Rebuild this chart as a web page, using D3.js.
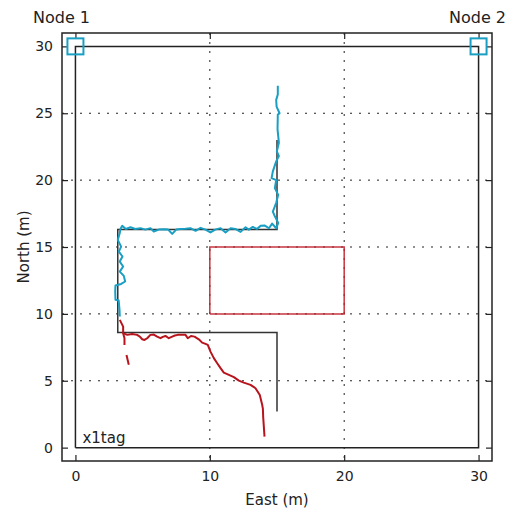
<!DOCTYPE html>
<html>
<head>
<meta charset="utf-8">
<script src="https://cdn.jsdelivr.net/npm/d3@7"></script>
<style>
  body { margin: 0; background: #fff; }
  svg { display: block; font-family: "DejaVu Sans", sans-serif; }
</style>
</head>
<body>
<div id="chart"></div>
<script>
// tick values
const xTicks = [0, 10, 20, 30];
const yTicks = [0, 5, 10, 15, 20, 25, 30];
const xGrid = [10, 20];
const yGrid = [5, 10, 15, 20, 25];

// anchor nodes
const nodeNames = ["Node 1", "Node 2"];
const nodeX = [0, 30];
const nodeY = [30, 30];

// room outline and planned route
const roomX = [0, 30, 30, 0, 0];
const roomY = [0, 0, 30, 30, 0];
const routeX = [15, 15, 3.15, 3.15, 15, 15];
const routeY = [23, 16.3, 16.3, 8.6, 8.6, 2.7];

// obstacle
const obstacleX = [10, 20, 20, 10, 10];
const obstacleY = [10, 10, 15, 15, 10];

// tracked positions (cyan part)
const trackAX = [15.06, 15.06, 14.94, 14.97, 15.19, 15.06, 15.04, 15.14, 14.99, 15.14, 14.94, 14.69, 14.6, 14.94, 14.84, 15.09, 14.94, 14.69, 14.84, 15.09, 14.94,
  14.64, 14.4, 14.1, 13.78, 13.5, 13.2, 12.9, 12.66, 12.29, 11.9, 11.55, 11.17, 10.8, 10.4, 10.05, 9.68, 9.31, 8.94, 8.56, 8.19, 7.82, 7.5, 7.2, 6.9, 6.58, 6.2, 5.83, 5.58, 5.2, 4.84, 4.45, 4.1, 3.75, 3.48, 3.35,
  3.3, 3.15, 3.4, 3.23, 3.5, 3.3, 3.55, 3.3, 3.6, 3.7, 3.4, 2.98, 2.96, 2.98, 3.22, 3.28, 3.3];
const trackAY = [27.05, 26.4, 26.0, 25.5, 25.0, 24.9, 23.8, 22.8, 22.15, 21.8, 21.4, 20.65, 20.15, 20.0, 19.4, 18.9, 18.3, 17.65, 17.3, 16.8, 16.4,
  16.75, 16.4, 16.6, 16.58, 16.35, 16.5, 16.3, 16.48, 16.13, 16.35, 16.4, 16.09, 16.41, 16.3, 16.09, 16.3, 16.43, 16.21, 16.41, 16.36, 16.35, 16.3, 15.98, 16.3, 16.33, 16.3, 16.16, 16.41, 16.3, 16.41, 16.35, 16.48, 16.35, 16.58, 16.35,
  16.04, 15.53, 15.03, 14.66, 14.29, 13.91, 13.54, 13.16, 12.84, 12.42, 12.24, 12.12, 11.67, 11.05, 11.0, 10.3, 9.8];

// tracked positions (red part)
const trackBX = [3.3, 3.45, 3.55, 3.55, 3.85, 4.22, 4.59, 4.79, 4.97, 5.14, 5.34, 5.58, 5.83, 6.08, 6.33, 6.5, 6.7, 6.95, 7.2, 7.4, 7.62, 7.95, 8.19, 8.36, 8.6, 8.86, 9.18, 9.43, 9.68, 9.85,
  10.05, 10.3, 10.55, 10.8, 11.04, 11.42, 11.79, 12.16, 12.53, 13.03, 13.4, 13.72, 13.9, 13.95, 13.97, 14.02, 14.07];
const trackBY = [9.55, 9.25, 9.05, 8.56, 8.43, 8.5, 8.43, 8.3, 8.1, 8.05, 8.18, 8.43, 8.45, 8.3, 8.18, 8.28, 8.35, 8.18, 8.3, 8.38, 8.43, 8.43, 8.43, 8.18, 8.35, 8.3, 8.1, 7.85, 7.76, 7.68,
  7.18, 6.69, 6.31, 5.94, 5.61, 5.44, 5.27, 5.01, 4.86, 4.69, 4.44, 3.94, 3.19, 2.9, 2.32, 1.57, 0.82];
const branchX = [3.55, 3.65, 3.65];
const branchY = [8.56, 8.18, 7.68];
const tailX = [3.8, 3.97];
const tailY = [6.93, 6.19];

const width = 510, height = 513;
const margin = {top: 33, right: 18, bottom: 52, left: 62};
const w = width - margin.left - margin.right;
const h = height - margin.top - margin.bottom;

const svg = d3.select('#chart').append('svg').attr('width', width).attr('height', height);
const g = svg.append('g').attr('transform', `translate(${margin.left},${margin.top})`);

const x = d3.scaleLinear().domain([-1, 31]).range([0, w]);
const y = d3.scaleLinear().domain([-1, 31]).range([h, 0]);

const pts = (xs, ys) => xs.map((v, i) => [v, ys[i]]);
const line = d3.line().x(d => x(d[0])).y(d => y(d[1]));

// dotted grid
g.append('g').selectAll('line').data(yGrid).join('line')
  .attr('x1', 0).attr('x2', w).attr('y1', d => y(d)).attr('y2', d => y(d))
  .attr('stroke', '#222').attr('stroke-width', 1).attr('stroke-dasharray', '2,7');
g.append('g').selectAll('line').data(xGrid).join('line')
  .attr('y1', 0).attr('y2', h).attr('x1', d => x(d)).attr('x2', d => x(d))
  .attr('stroke', '#222').attr('stroke-width', 1).attr('stroke-dasharray', '2,7');

// axes with inward ticks
const axisStyle = sel => {
  sel.select('.domain').remove();
  sel.selectAll('.tick line').attr('stroke', '#222').attr('stroke-width', 1.2);
  sel.selectAll('.tick text').style('font-size', '14px').style('font-family', '"DejaVu Sans", sans-serif').attr('fill', '#222');
};
g.append('g').attr('transform', `translate(0,${h})`)
  .call(d3.axisBottom(x).tickValues(xTicks).tickSize(-6).tickPadding(10)).call(axisStyle);
g.append('g').call(d3.axisLeft(y).tickValues(yTicks).tickSize(-6).tickPadding(9)).call(axisStyle);
g.append('g').call(d3.axisTop(x).tickValues(xTicks).tickSize(-6).tickFormat('')).call(axisStyle);
g.append('g').attr('transform', `translate(${w},0)`)
  .call(d3.axisRight(y).tickValues(yTicks).tickSize(-6).tickFormat('')).call(axisStyle);

// plot frame
g.append('rect').attr('width', w).attr('height', h).attr('fill', 'none').attr('stroke', '#222').attr('stroke-width', 1.5);

// room + planned route
g.append('path').attr('d', line(pts(roomX, roomY))).attr('fill', 'none').attr('stroke', '#222').attr('stroke-width', 1.5);
g.append('path').attr('d', line(pts(routeX, routeY))).attr('fill', 'none').attr('stroke', '#333').attr('stroke-width', 1.5);

// obstacle
g.append('path').attr('d', line(pts(obstacleX, obstacleY))).attr('fill', 'none').attr('stroke', '#c0202b').attr('stroke-width', 1.5).attr('stroke-opacity', 0.9);

// tracks
g.append('path').attr('d', line(pts(trackAX, trackAY))).attr('fill', 'none').attr('stroke', '#189fc3').attr('stroke-width', 2).attr('stroke-linejoin', 'round');
[pts(trackBX, trackBY), pts(branchX, branchY), pts(tailX, tailY)].forEach(p => {
  g.append('path').attr('d', line(p)).attr('fill', 'none').attr('stroke', '#b8141d').attr('stroke-width', 2).attr('stroke-linejoin', 'round');
});

// anchor node markers
g.append('g').selectAll('rect').data(nodeX).join('rect')
  .attr('x', (d, i) => x(d) - 8).attr('y', (d, i) => y(nodeY[i]) - 8)
  .attr('width', 16).attr('height', 16)
  .attr('fill', 'none').attr('stroke', '#189fc3').attr('stroke-width', 2);

// node labels
svg.append('text').attr('x', 33).attr('y', 23).style('font-size', '16px').attr('fill', '#222').text(nodeNames[0]);
svg.append('text').attr('x', 506).attr('y', 23).attr('text-anchor', 'end').style('font-size', '16px').attr('fill', '#222').text(nodeNames[1]);

// tag label
g.append('text').attr('x', x(0) + 7).attr('y', y(0) - 5).style('font-size', '15px').attr('fill', '#222').text('x1tag');

// axis titles
svg.append('text').attr('x', margin.left + w / 2).attr('y', 505).attr('text-anchor', 'middle')
  .style('font-size', '15px').attr('fill', '#222').text('East (m)');
svg.append('text').attr('transform', `translate(29,${margin.top + h / 2}) rotate(-90)`).attr('text-anchor', 'middle')
  .style('font-size', '15px').attr('fill', '#222').text('North (m)');
</script>
</body>
</html>
